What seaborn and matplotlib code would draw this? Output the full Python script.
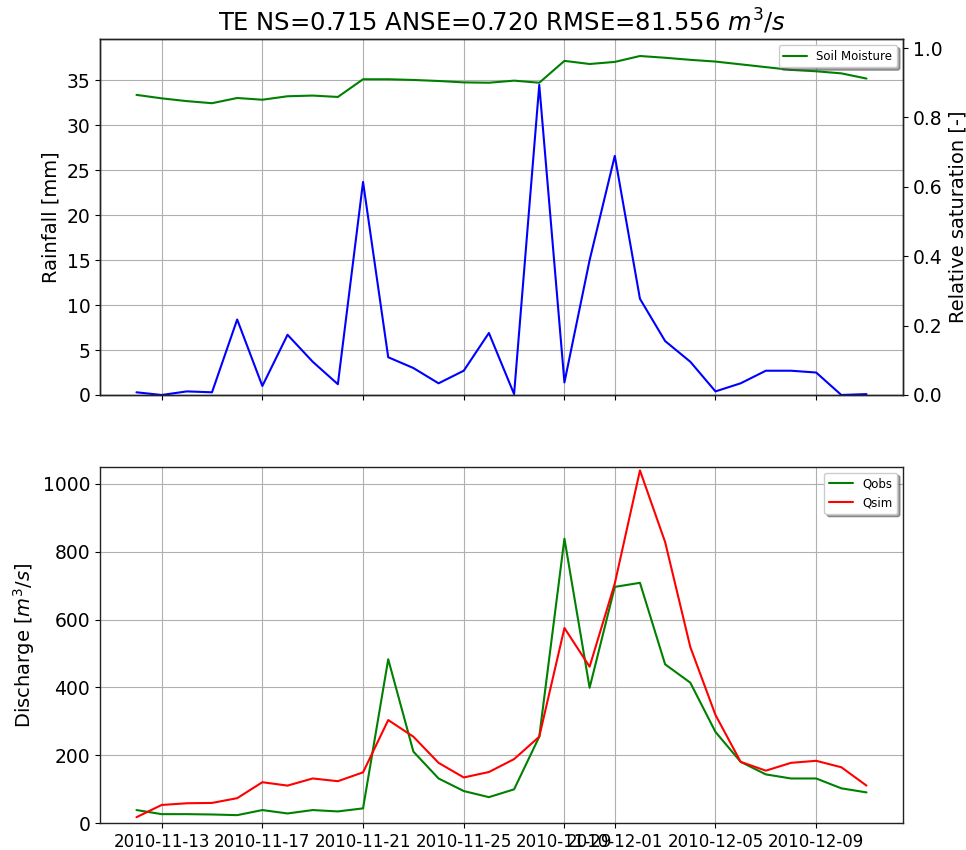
import pandas as pd
import matplotlib
matplotlib.use("Agg")
import matplotlib.pyplot as plt
import matplotlib.dates as mdates
import seaborn as sns

# daily series, 2010-11-12 .. 2010-12-11
start_date = "2010-11-12"
n_days = 30

rainfall = [0.3, 0.0, 0.4, 0.3, 8.4, 1.0, 6.7, 3.7, 1.2, 23.7,
            4.2, 3.0, 1.3, 2.7, 6.9, 0.1, 34.5, 1.4, 15.0, 26.6,
            10.7, 6.0, 3.7, 0.4, 1.3, 2.7, 2.7, 2.5, 0.0, 0.1]

soil_moisture = [0.865, 0.855, 0.847, 0.841, 0.856, 0.851, 0.861, 0.863, 0.859, 0.910,
                 0.910, 0.908, 0.905, 0.901, 0.900, 0.906, 0.900, 0.963, 0.954, 0.960,
                 0.977, 0.972, 0.966, 0.961, 0.953, 0.945, 0.937, 0.933, 0.927, 0.912]

q_obs = [39, 27, 27, 26, 24, 39, 29, 39, 35, 44,
         483, 211, 132, 95, 77, 100, 255, 838, 399, 696,
         708, 468, 414, 269, 181, 144, 132, 132, 103, 91]

q_sim = [18, 54, 59, 60, 74, 121, 111, 132, 124, 150,
         304, 255, 178, 135, 151, 189, 255, 575, 461, 706,
         1039, 828, 519, 319, 181, 155, 178, 184, 165, 111]

title = "TE NS=0.715 ANSE=0.720 RMSE=81.556 $m^3/s$"

sns.set_theme(context="notebook", style="ticks",
              rc={"axes.grid": True, "grid.color": "#b0b0b0", "grid.linewidth": 0.8,
                  "axes.linewidth": 1.0, "axes.edgecolor": "#222222",
                  "text.color": "black", "axes.labelcolor": "black",
                  "xtick.color": "black", "ytick.color": "black",
                  "xtick.major.size": 3.5, "ytick.major.size": 3.5,
                  "xtick.major.width": 0.8, "ytick.major.width": 0.8,
                  "lines.linewidth": 1.5})
plt.rcParams["font.family"] = ["DejaVu Sans"]

dates = pd.date_range(start_date, periods=n_days, freq="D")
df = pd.DataFrame({"date": dates, "rain": rainfall, "sm": soil_moisture,
                   "Qobs": q_obs, "Qsim": q_sim})

fig = plt.figure(figsize=(9.66, 8.5), dpi=100)
ax1 = fig.add_axes([0.1035, 0.5353, 0.8313, 0.4188])
ax3 = fig.add_axes([0.1035, 0.0314, 0.8313, 0.4196], sharex=ax1)

# top: rainfall + soil moisture
sns.lineplot(data=df, x="date", y="rain", color="blue", ax=ax1, legend=False)
ax1.set_ylim(0, 39.6)
ax1.set_ylabel("Rainfall [mm]", fontsize=14)
ax1.set_xlabel("")
ax1.tick_params(axis="y", labelsize=13.5)
ax1.tick_params(axis="x", labelbottom=False)
ax1.set_title(title, fontsize=17.5)

ax2 = ax1.twinx()
sns.lineplot(data=df, x="date", y="sm", color="green", ax=ax2, label="Soil Moisture")
ax2.set_ylim(0, 1.026)
ax2.grid(False)
ax2.set_ylabel("Relative saturation [-]", fontsize=14)
ax2.tick_params(axis="y", labelsize=13.5)
ax2.legend(loc="upper right", fontsize=8.5, shadow=True, fancybox=True)

# bottom: discharge
sns.lineplot(data=df, x="date", y="Qobs", color="green", ax=ax3, label="Qobs")
sns.lineplot(data=df, x="date", y="Qsim", color="red", ax=ax3, label="Qsim")
ax3.set_ylim(0, 1050)
ax3.set_ylabel("Discharge [$m^3/s$]", fontsize=14)
ax3.set_xlabel("")
ax3.tick_params(axis="y", labelsize=13.5)
ax3.tick_params(axis="x", labelsize=12)
ax3.legend(loc="upper right", fontsize=8.5, shadow=True, fancybox=True)

# ticks every 4 days, restarting each month (gives the 11-29 / 12-01 clash)
ax3.xaxis.set_major_locator(mdates.DayLocator(bymonthday=[1, 5, 9, 13, 17, 21, 25, 29]))
ax3.xaxis.set_major_formatter(mdates.DateFormatter("%Y-%m-%d"))

fig.savefig("out.png", dpi=100)
